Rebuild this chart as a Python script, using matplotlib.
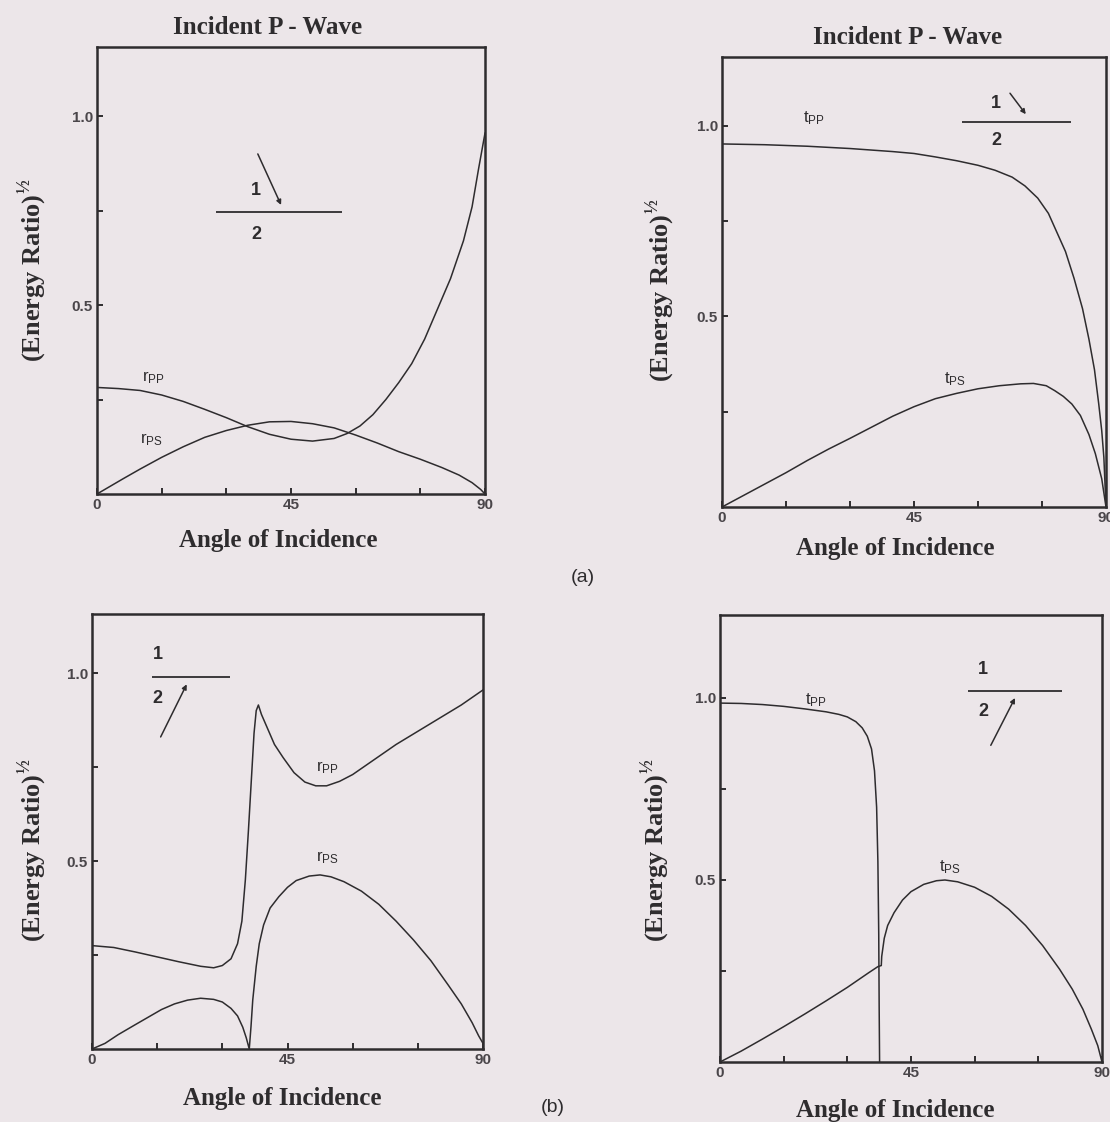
import matplotlib
matplotlib.use("Agg")
import matplotlib.pyplot as plt
from matplotlib.ticker import FixedLocator

# -------------------------------
# DATA (angle in degrees, (energy ratio)^1/2)
# -------------------------------
# (a) left : reflection, incident P-wave from medium 1
a_rpp_ang = [0, 5, 10, 15, 20, 25, 30, 35, 40, 45, 50, 55, 58, 61, 64, 67, 70, 73, 76,
             79, 82, 85, 87, 88.5, 90]
a_rpp_val = [0.282, 0.279, 0.274, 0.262, 0.245, 0.224, 0.202, 0.178, 0.158, 0.145, 0.140,
             0.147, 0.160, 0.180, 0.210, 0.250, 0.295, 0.345, 0.410, 0.490, 0.570, 0.670,
             0.760, 0.860, 0.955]
a_rps_ang = [0, 3, 6, 10, 15, 20, 25, 30, 35, 40, 45, 50, 55, 60, 65, 70, 75, 80, 84, 87,
             89, 90]
a_rps_val = [0.0, 0.02, 0.04, 0.066, 0.097, 0.125, 0.150, 0.168, 0.182, 0.191, 0.192,
             0.186, 0.175, 0.156, 0.135, 0.112, 0.092, 0.070, 0.050, 0.030, 0.012, 0.0]

# (a) right : transmission
a_tpp_ang = [0, 10, 20, 30, 40, 45, 50, 55, 60, 64, 68, 71, 74, 76.5, 78.5, 80.5, 82.5,
             84.5, 86, 87.3, 88.3, 89, 89.5, 90]
a_tpp_val = [0.952, 0.950, 0.946, 0.940, 0.932, 0.927, 0.918, 0.908, 0.896, 0.883, 0.865,
             0.842, 0.810, 0.770, 0.720, 0.670, 0.600, 0.520, 0.440, 0.360, 0.270, 0.200,
             0.130, 0.0]
a_tps_ang = [0, 5, 10, 15, 20, 25, 30, 35, 40, 45, 50, 55, 60, 65, 70, 73, 76, 78, 80, 82,
             84, 86, 87.5, 89, 90]
a_tps_val = [0.0, 0.03, 0.06, 0.09, 0.122, 0.152, 0.180, 0.209, 0.238, 0.263, 0.284,
             0.298, 0.310, 0.318, 0.323, 0.324, 0.318, 0.305, 0.290, 0.270, 0.240, 0.190,
             0.140, 0.074, 0.0]

# (b) left : reflection, incident P-wave from medium 2
b_rpp_ang = [0, 5, 10, 15, 20, 25, 28, 30, 32, 33.5, 34.5, 35.3, 36, 36.7, 37.3, 37.8,
             38.3, 39, 40.5, 42, 44, 46.5, 49, 51.5, 54, 57, 60, 65, 70, 75, 80, 85, 90]
b_rpp_val = [0.275, 0.270, 0.258, 0.245, 0.232, 0.220, 0.216, 0.222, 0.240, 0.280, 0.340,
             0.450, 0.580, 0.720, 0.840, 0.900, 0.915, 0.890, 0.850, 0.810, 0.775, 0.735,
             0.710, 0.700, 0.700, 0.712, 0.730, 0.770, 0.810, 0.845, 0.880, 0.915, 0.955]
b_rps_ang = [0, 3, 6, 10, 13, 16, 19, 22, 25, 28, 30, 32, 33.5, 34.7, 35.5, 36.2, 36.6,
             37, 37.8, 38.5, 39.5, 41, 43, 45, 47, 50, 52.5, 55, 58, 62, 66, 70, 74, 78,
             82, 85, 87.5, 89, 90]
b_rps_val = [0.0, 0.015, 0.038, 0.065, 0.085, 0.105, 0.120, 0.130, 0.135, 0.132, 0.125,
             0.108, 0.088, 0.058, 0.030, 0.0, 0.06, 0.13, 0.22, 0.28, 0.33, 0.375, 0.405,
             0.430, 0.448, 0.460, 0.463, 0.458, 0.445, 0.420, 0.385, 0.340, 0.290, 0.235,
             0.170, 0.120, 0.070, 0.035, 0.015]

# (b) right : transmission
b_tpp_ang = [0, 5, 10, 15, 20, 25, 28, 30, 32, 33.5, 34.7, 35.7, 36.4, 36.9, 37.2, 37.4,
             37.5, 37.6]
b_tpp_val = [0.986, 0.985, 0.982, 0.977, 0.970, 0.962, 0.955, 0.948, 0.935, 0.918, 0.895,
             0.860, 0.800, 0.700, 0.550, 0.350, 0.150, 0.0]
b_tps_ang = [0, 5, 10, 15, 20, 25, 30, 35, 37.2, 38.0, 38.1, 38.7, 39.5, 41, 43, 45, 48,
             51, 53, 56, 60, 64, 68, 72, 76, 80, 83, 85.5, 87.5, 89, 90]
b_tps_val = [0.0, 0.03, 0.063, 0.097, 0.132, 0.168, 0.205, 0.245, 0.262, 0.265, 0.29,
             0.34, 0.375, 0.41, 0.445, 0.468, 0.488, 0.498, 0.500, 0.495, 0.480, 0.455,
             0.420, 0.375, 0.320, 0.255, 0.200, 0.145, 0.090, 0.045, 0.0]

# -------------------------------
# STYLE
# -------------------------------
W, H = 1110, 1122
BG = "#ece6e9"
INK = "#2e2c2e"
SERIF = "Liberation Serif"
SANS = "Liberation Sans"

plt.rcParams["mathtext.fontset"] = "custom"
plt.rcParams["mathtext.rm"] = "Liberation Serif:bold"
plt.rcParams["mathtext.sf"] = "Liberation Sans"

fig = plt.figure(figsize=(W / 100, H / 100), dpi=100, facecolor=BG)


def px_box(l, t, r, b):
    return [l / W, 1 - b / H, (r - l) / W, (b - t) / H]


def fig_text(x, y, s, **kw):
    kw.setdefault("color", INK)
    fig.text(x / W, 1 - y / H, s, **kw)


def make_panel(box, ytop):
    ax = fig.add_axes(px_box(*box))
    ax.set_facecolor(BG)
    ax.set_xlim(0, 90)
    ax.set_ylim(0, ytop)
    ax.xaxis.set_major_locator(FixedLocator([0, 45, 90]))
    ax.xaxis.set_minor_locator(FixedLocator([15, 30, 60, 75]))
    ax.yaxis.set_major_locator(FixedLocator([0.5, 1.0]))
    ax.yaxis.set_minor_locator(FixedLocator([0.25, 0.75]))
    ax.set_xticklabels(["0", "45", "90"])
    ax.set_yticklabels(["0.5", "1.0"])
    ax.tick_params(which="both", direction="in", length=4, width=1.4, color=INK,
                   labelsize=11, labelcolor="#4a464a", pad=3)
    for lab in ax.get_xticklabels() + ax.get_yticklabels():
        lab.set_fontfamily(SANS)
        lab.set_fontweight("bold")
    for sp in ax.spines.values():
        sp.set_linewidth(1.8)
        sp.set_color(INK)
    return ax


def interface(ax, x0, x1, y, up, frac, arrow_from, arrow_to):
    ax.plot([x0, x1], [y, y], color=INK, lw=1.3, solid_capstyle="butt")
    xm = x0 + (x1 - x0) * frac
    ax.text(xm, y + up, "1", ha="center", va="center", fontsize=13,
            fontfamily=SANS, fontweight="bold", color=INK)
    ax.text(xm, y - up, "2", ha="center", va="center", fontsize=13,
            fontfamily=SANS, fontweight="bold", color=INK)
    ax.annotate("", xy=arrow_to, xytext=arrow_from,
                arrowprops=dict(arrowstyle="-|>", color=INK, lw=1.1,
                                mutation_scale=7, shrinkA=0, shrinkB=0))


def curve(ax, ang, val):
    ax.plot(ang, val, color=INK, lw=1.1, solid_joinstyle="round")


def lab(ax, x, y, s):
    ax.text(x, y, s, fontsize=12, color=INK, ha="left", va="center")


# -------------------------------
# PANELS
# -------------------------------
ax1 = make_panel((97, 47, 485, 494), 1.183)
curve(ax1, a_rpp_ang, a_rpp_val)
curve(ax1, a_rps_ang, a_rps_val)
lab(ax1, 10.5, 0.31, r"$\mathsf{r_{PP}}$")
lab(ax1, 10.0, 0.145, r"$\mathsf{r_{PS}}$")
interface(ax1, 27.6, 56.8, 0.746, 0.058, 0.32, (37.3, 0.90), (42.7, 0.765))

ax2 = make_panel((722, 57, 1106, 507), 1.18)
curve(ax2, a_tpp_ang, a_tpp_val)
curve(ax2, a_tps_ang, a_tps_val)
lab(ax2, 19.0, 1.02, r"$\mathsf{t_{PP}}$")
lab(ax2, 52.0, 0.335, r"$\mathsf{t_{PS}}$")
interface(ax2, 56.3, 81.8, 1.01, 0.048, 0.31, (67.5, 1.085), (71.2, 1.03))

ax3 = make_panel((92, 614, 483, 1049), 1.157)
curve(ax3, b_rpp_ang, b_rpp_val)
curve(ax3, b_rps_ang, b_rps_val)
lab(ax3, 51.5, 0.75, r"$\mathsf{r_{PP}}$")
lab(ax3, 51.5, 0.51, r"$\mathsf{r_{PS}}$")
interface(ax3, 13.8, 31.8, 0.99, 0.058, 0.07, (15.8, 0.83), (21.8, 0.97))

ax4 = make_panel((720, 615, 1102, 1062), 1.228)
curve(ax4, b_tpp_ang, b_tpp_val)
curve(ax4, b_tps_ang, b_tps_val)
lab(ax4, 20.0, 0.995, r"$\mathsf{t_{PP}}$")
lab(ax4, 51.5, 0.535, r"$\mathsf{t_{PS}}$")
interface(ax4, 58.4, 80.5, 1.02, 0.058, 0.16, (63.8, 0.87), (69.5, 1.0))

# -------------------------------
# TEXT
# -------------------------------
title_kw = dict(fontfamily=SERIF, fontweight="bold", fontsize=18, ha="center", va="center")
fig_text(268, 27, "Incident P - Wave", **title_kw)
fig_text(908, 37, "Incident P - Wave", **title_kw)

xl_kw = dict(fontfamily=SERIF, fontweight="bold", fontsize=18, ha="center", va="center")
fig_text(278, 541, "Angle of Incidence", **xl_kw)
fig_text(895, 549, "Angle of Incidence", **xl_kw)
fig_text(282, 1099, "Angle of Incidence", **xl_kw)
fig_text(895, 1110, "Angle of Incidence", **xl_kw)

yl_kw = dict(fontfamily=SERIF, fontweight="bold", fontsize=19, ha="center", va="center",
             rotation=90)
ylab = "(Energy Ratio)$^{\u00bd}$"
fig_text(33, 270, ylab, **yl_kw)
fig_text(661, 290, ylab, **yl_kw)
fig_text(33, 850, ylab, **yl_kw)
fig_text(656, 850, ylab, **yl_kw)

fig_text(583, 578, "(a)", fontfamily=SANS, fontsize=14, ha="center", va="center")
fig_text(553, 1108, "(b)", fontfamily=SANS, fontsize=14, ha="center", va="center")

fig.savefig("out.png", dpi=100, facecolor=BG)
